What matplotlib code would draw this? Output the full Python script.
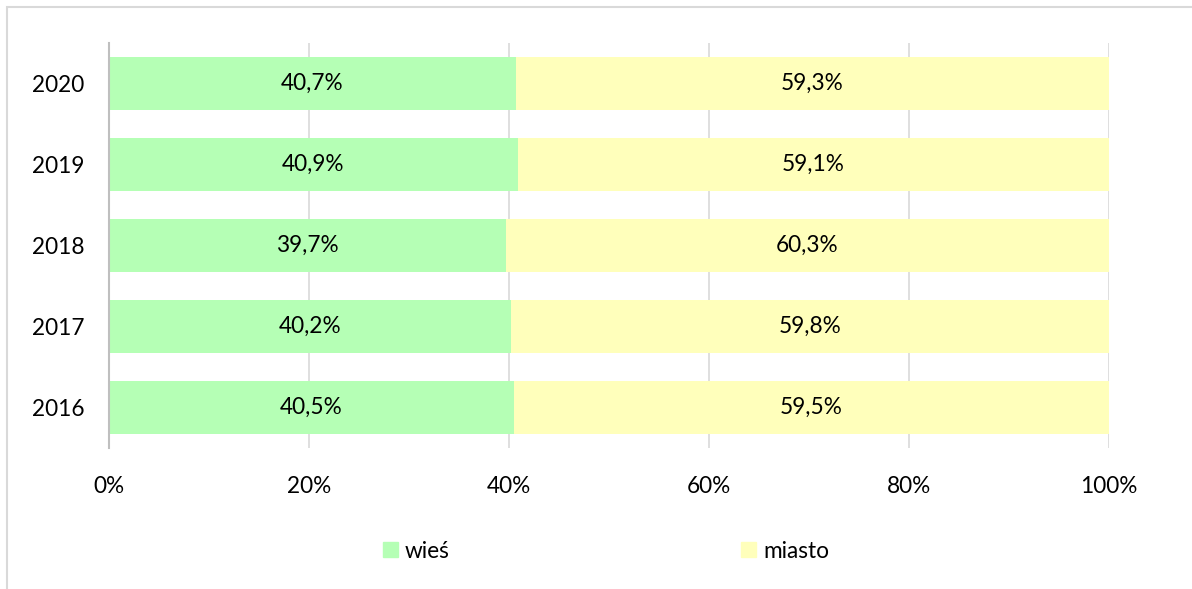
import matplotlib.pyplot as plt
from matplotlib.patches import Patch, Rectangle
import numpy as np

years = ["2016", "2017", "2018", "2019", "2020"]
wies = [40.5, 40.2, 39.7, 40.9, 40.7]
miasto = [59.5, 59.8, 60.3, 59.1, 59.3]
x_ticks = [0, 20, 40, 60, 80, 100]
x_tick_labels = ["0%", "20%", "40%", "60%", "80%", "100%"]

GREEN = "#b5ffb5"
YELLOW = "#ffffbb"
FONT = "Lato"
FS = 16.3


def pct(v):
    return f"{v:.1f}%".replace(".", ",")


fig = plt.figure(figsize=(11.92, 5.89), dpi=100)
# outer chart frame (only top/left edges fall inside the image)
fig.patches.append(Rectangle((7 / 1192, -0.1), 1.2, 1 - 7 / 589 + 0.1,
                             transform=fig.transFigure, fill=False,
                             edgecolor="#d9d9d9", linewidth=1.5))

ax = fig.add_axes([109 / 1192, 1 - 448 / 589, 1000 / 1192, 405 / 589])
y = np.arange(len(years))
h = 0.65
ax.barh(y, wies, height=h, color=GREEN, zorder=2)
ax.barh(y, miasto, left=wies, height=h, color=YELLOW, zorder=2)

for i in range(len(years)):
    ax.text(wies[i] / 2, y[i], pct(wies[i]), ha="center", va="center",
            fontsize=FS, family=FONT, color="#000000", zorder=3)
    ax.text(wies[i] + miasto[i] / 2, y[i], pct(miasto[i]), ha="center",
            va="center", fontsize=FS, family=FONT, color="#000000", zorder=3)

ax.set_xlim(0, 100)
ax.set_ylim(-0.5, len(years) - 0.5)
ax.set_xticks(x_ticks)
ax.set_xticklabels(x_tick_labels, family=FONT, fontsize=FS)
ax.set_yticks(y)
ax.set_yticklabels(years, family=FONT, fontsize=FS)
ax.tick_params(axis="x", length=0, pad=20)
ax.tick_params(axis="y", length=0, pad=18)
ax.xaxis.grid(True, color="#d9d9d9", linewidth=1.2, zorder=1)
ax.set_axisbelow(True)
for s in ("top", "right", "bottom"):
    ax.spines[s].set_visible(False)
ax.spines["left"].set_color("#bfbfbf")
ax.spines["left"].set_linewidth(1.5)
ax.spines["left"].set_zorder(4)

handles = [Patch(color=GREEN, label="wieś"), Patch(color=YELLOW, label="miasto")]
fig.legend(handles=handles, loc="center", bbox_to_anchor=(606 / 1192, 1 - 551 / 589),
           ncol=2, frameon=False, prop={"family": FONT, "size": FS},
           handlelength=0.65, handleheight=0.65, handletextpad=0.3,
           columnspacing=12.9)

fig.savefig("out.png", dpi=100)
